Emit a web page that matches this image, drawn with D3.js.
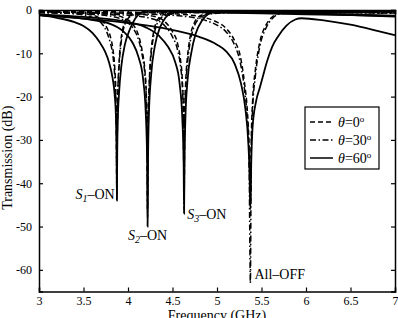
<!DOCTYPE html>
<html>
<head>
<meta charset="utf-8">
<script src="https://cdn.jsdelivr.net/npm/d3@7"></script>
<style>
  body { margin: 0; background: #fff; }
  text { font-family: "Liberation Serif", "Times New Roman", serif; fill: #000; }
</style>
</head>
<body>
<div id="chart"></div>
<script>
// Podaci (frekvencija u GHz, transmisija u dB)
const configs = ["S1-ON", "S2-ON", "S3-ON", "All-OFF"];
const angles = ["0", "30", "60"];
const xTicks = [3, 3.5, 4, 4.5, 5, 5.5, 6, 6.5, 7];
const yTicks = [0, -10, -20, -30, -40, -50, -60];

const s1_0 = [[3.0,-0.3],[3.4,-0.6],[3.6,-1.2],[3.7,-2.2],[3.76,-4],[3.8,-6],[3.83,-9],[3.85,-13],[3.863,-19],[3.87,-28],[3.875,-42],[3.879,-28],[3.886,-19],[3.9,-12],[3.92,-7],[3.945,-4],[3.975,-2.2],[4.05,-1],[4.2,-0.5],[5,-0.3],[7,-0.3]];
const s1_30 = [[3.0,-0.5],[3.4,-0.9],[3.6,-1.7],[3.7,-3],[3.76,-5],[3.8,-7.5],[3.83,-10.5],[3.85,-15],[3.863,-21],[3.87,-30],[3.875,-44],[3.879,-30],[3.886,-20],[3.9,-13],[3.92,-8],[3.945,-4.8],[3.975,-2.8],[4.05,-1.2],[4.2,-0.6],[5,-0.5],[7,-0.6]];
const s1_60 = [[3.0,-1.2],[3.2,-1.8],[3.4,-2.8],[3.5,-3.7],[3.6,-5.3],[3.68,-7.4],[3.74,-9.5],[3.79,-12.3],[3.825,-15.5],[3.85,-19.5],[3.865,-25],[3.872,-33],[3.875,-44],[3.879,-33],[3.886,-25],[3.9,-19],[3.925,-13],[3.965,-8],[4.02,-4.5],[4.08,-2],[4.15,-0.6],[4.2,-0.2],[4.5,-0.4],[5,-0.6],[6,-1],[7,-1.4]];

const s2_0 = [[3.0,-0.4],[3.5,-0.6],[3.8,-1],[3.95,-1.8],[4.05,-3.2],[4.12,-6],[4.16,-9.5],[4.19,-14],[4.205,-19],[4.215,-28],[4.22,-46],[4.225,-28],[4.235,-19],[4.25,-12],[4.27,-7.5],[4.3,-4],[4.34,-2],[4.42,-0.9],[4.6,-0.5],[5,-0.4],[6,-0.3],[7,-0.3]];
const s2_30 = [[3.0,-0.6],[3.5,-0.9],[3.8,-1.4],[3.95,-2.4],[4.05,-4],[4.12,-7],[4.16,-10.5],[4.19,-15],[4.205,-20],[4.215,-30],[4.22,-48],[4.225,-30],[4.235,-20],[4.25,-13],[4.27,-8.5],[4.3,-5],[4.34,-2.6],[4.42,-1.2],[4.6,-0.7],[5,-0.6],[6,-0.6],[7,-0.7]];
const s2_60 = [[3.0,-1.2],[3.5,-2],[3.8,-3.2],[3.95,-5],[4.05,-7.5],[4.12,-11],[4.17,-16],[4.2,-24],[4.215,-35],[4.22,-50],[4.225,-35],[4.235,-24],[4.26,-15],[4.3,-8.5],[4.36,-4],[4.42,-1.8],[4.5,-0.6],[4.6,-0.3],[5,-0.4],[6,-0.8],[7,-1.3]];

const s3_0 = [[3.0,-0.4],[3.5,-0.5],[4.0,-0.8],[4.3,-1.5],[4.42,-2.8],[4.5,-5],[4.56,-8],[4.59,-11.5],[4.61,-16],[4.622,-23],[4.63,-44],[4.637,-24],[4.65,-16],[4.67,-10.5],[4.7,-6],[4.74,-3.2],[4.8,-1.5],[4.9,-0.8],[5.2,-0.5],[6,-0.4],[7,-0.4]];
const s3_30 = [[3.0,-0.6],[3.5,-0.8],[4.0,-1.2],[4.3,-2.2],[4.42,-3.8],[4.5,-6.2],[4.56,-9.5],[4.59,-13],[4.61,-17.5],[4.622,-25],[4.63,-46],[4.637,-26],[4.65,-17.5],[4.67,-12],[4.7,-7.2],[4.74,-4],[4.8,-2],[4.9,-1],[5.2,-0.6],[6,-0.6],[7,-0.7]];
const s3_60 = [[3.0,-1.0],[3.5,-1.6],[4.0,-2.8],[4.2,-4],[4.35,-6],[4.45,-8.5],[4.53,-12],[4.58,-17],[4.61,-25],[4.625,-35],[4.63,-47],[4.635,-35],[4.645,-25],[4.67,-16],[4.71,-10],[4.76,-5.5],[4.83,-2.5],[4.9,-1],[5.0,-0.4],[5.5,-0.5],[6,-0.8],[7,-1.5]];

const off_0 = [[3.0,-0.2],[4.0,-0.5],[4.6,-1],[4.87,-1.8],[5.0,-2.8],[5.1,-4.2],[5.2,-7.2],[5.26,-10.5],[5.31,-17],[5.34,-23],[5.36,-31],[5.375,-45],[5.385,-30],[5.4,-21],[5.43,-14],[5.48,-7.5],[5.55,-3.5],[5.62,-1.6],[5.69,-0.8],[6,-0.3],[7,-0.2]];
const off_30 = [[3.0,-0.4],[4.0,-0.8],[4.6,-1.4],[4.87,-2.4],[5.0,-3.5],[5.1,-5],[5.2,-8.2],[5.26,-12],[5.31,-18.5],[5.34,-25],[5.36,-34],[5.375,-63],[5.385,-33],[5.4,-23],[5.43,-15.5],[5.48,-8.5],[5.55,-4.2],[5.62,-2],[5.69,-1],[6,-0.5],[7,-0.6]];
const off_60 = [[3.0,-1.2],[3.5,-2],[4.0,-3],[4.4,-4.2],[4.8,-6.2],[5.0,-8],[5.1,-9.5],[5.2,-12.5],[5.27,-17],[5.32,-23],[5.35,-30],[5.365,-37],[5.375,-46],[5.385,-35],[5.4,-27],[5.44,-21],[5.48,-18],[5.52,-15],[5.56,-12],[5.62,-8.5],[5.69,-6],[5.78,-3.6],[5.88,-2.2],[5.95,-1.9],[6.2,-2.4],[6.5,-3.4],[6.8,-4.8],[7.0,-5.8]];

const series = [
    { angle: "0", values: s1_0 }, { angle: "0", values: s2_0 }, { angle: "0", values: s3_0 }, { angle: "0", values: off_0 },
    { angle: "30", values: s1_30 }, { angle: "30", values: s2_30 }, { angle: "30", values: s3_30 }, { angle: "30", values: off_30 },
    { angle: "60", values: s1_60 }, { angle: "60", values: s2_60 }, { angle: "60", values: s3_60 }, { angle: "60", values: off_60 },
];

// Oznake rezonancija
const notes = [
    { name: "S1-ON", sub: "1", f: 3.85, db: -42.5, anchor: "end" },
    { name: "S2-ON", sub: "2", f: 4.0, db: -52, anchor: "start" },
    { name: "S3-ON", sub: "3", f: 4.665, db: -47, anchor: "start" },
    { name: "All-OFF", sub: null, f: 5.42, db: -60.9, anchor: "start" },
];

const dashes = { "0": "5,3", "30": "6,2.5,1.5,2.5", "60": null };

const dimenzije = {
    sirina: 398,
    visina: 318,
    margine: { top: 10, right: 3, bottom: 26.5, left: 39 },
};
dimenzije.grSirina = dimenzije.sirina - dimenzije.margine.left - dimenzije.margine.right;
dimenzije.grVisina = dimenzije.visina - dimenzije.margine.top - dimenzije.margine.bottom;

const svg = d3.select("#chart")
    .append("svg")
    .attr("width", dimenzije.sirina)
    .attr("height", dimenzije.visina);

const granice = svg.append("g")
    .attr("transform", `translate(${dimenzije.margine.left},${dimenzije.margine.top})`);

const xScale = d3.scaleLinear().domain([3, 7]).range([0, dimenzije.grSirina]);
const yScale = d3.scaleLinear().domain([-65, 0]).range([dimenzije.grVisina, 0]);

svg.append("defs").append("clipPath").attr("id", "clip")
    .append("rect")
    .attr("width", dimenzije.grSirina)
    .attr("height", dimenzije.grVisina);

const linija = d3.line()
    .x(d => xScale(d[0]))
    .y(d => yScale(d[1]))
    .curve(d3.curveMonotoneX);

granice.append("g")
    .attr("clip-path", "url(#clip)")
    .selectAll("path")
    .data(series)
    .join("path")
    .attr("d", d => linija(d.values))
    .attr("fill", "none")
    .attr("stroke", "#000")
    .attr("stroke-width", d => d.angle === "60" ? 1.8 : 1.5)
    .attr("stroke-dasharray", d => dashes[d.angle]);

// Osi (MATLAB stil, crtice prema unutra)
granice.append("g")
    .attr("transform", `translate(0,${dimenzije.grVisina})`)
    .call(d3.axisBottom(xScale).tickValues(xTicks).tickSize(-4).tickPadding(5).tickFormat(d => d));
granice.append("g")
    .call(d3.axisTop(xScale).tickValues(xTicks).tickSize(-4).tickFormat(""));
granice.append("g")
    .call(d3.axisLeft(yScale).tickValues(yTicks).tickSize(-4).tickPadding(7).tickFormat(d => d));
granice.append("g")
    .attr("transform", `translate(${dimenzije.grSirina},0)`)
    .call(d3.axisRight(yScale).tickValues(yTicks).tickSize(-4).tickFormat(""));

granice.selectAll(".domain").attr("stroke", "#000").attr("stroke-width", 1.5);
granice.selectAll(".tick line").attr("stroke", "#000").attr("stroke-width", 1.2);
granice.selectAll(".tick text")
    .style("font-family", "'Liberation Serif', serif")
    .style("font-size", "12px")
    .attr("fill", "#000");

// Naslovi osi
svg.append("text")
    .attr("x", dimenzije.margine.left + dimenzije.grSirina / 2)
    .attr("y", 320)
    .attr("text-anchor", "middle")
    .style("font-size", "14px")
    .text("Frequency (GHz)");

svg.append("text")
    .attr("transform", `translate(12,${dimenzije.margine.top + dimenzije.grVisina / 2 + 7}) rotate(-90)`)
    .attr("text-anchor", "middle")
    .style("font-size", "14px")
    .text("Transmission (dB)");

// Oznake uz rezonancije
notes.forEach(n => {
    const t = granice.append("text")
        .attr("x", xScale(n.f))
        .attr("y", yScale(n.db) + 5)
        .attr("text-anchor", n.anchor)
        .style("font-size", "14px");
    if (n.sub) {
        t.append("tspan").style("font-style", "italic").text("S");
        t.append("tspan").attr("dy", 3).style("font-size", "10px").style("font-style", "italic").text(n.sub);
        t.append("tspan").attr("dy", -3).text("\u2013ON");
    } else {
        t.text("All\u2013OFF");
    }
});

// Legenda
const legenda = svg.append("g").attr("transform", "translate(305,107)");
legenda.append("rect")
    .attr("width", 74)
    .attr("height", 62)
    .attr("fill", "#fff")
    .attr("stroke", "#000")
    .attr("stroke-width", 1.2);

angles.forEach((a, i) => {
    const yy = 15 + i * 18;
    legenda.append("line")
        .attr("x1", 5).attr("x2", 28)
        .attr("y1", yy).attr("y2", yy)
        .attr("stroke", "#000")
        .attr("stroke-width", 1.5)
        .attr("stroke-dasharray", dashes[a]);
    const t = legenda.append("text")
        .attr("x", 33)
        .attr("y", yy + 5)
        .style("font-size", "14px");
    t.append("tspan").style("font-style", "italic").text("\u03b8");
    t.append("tspan").text("=" + a);
    t.append("tspan").attr("dy", -5).style("font-size", "9px").text("o");
});
</script>
</body>
</html>
